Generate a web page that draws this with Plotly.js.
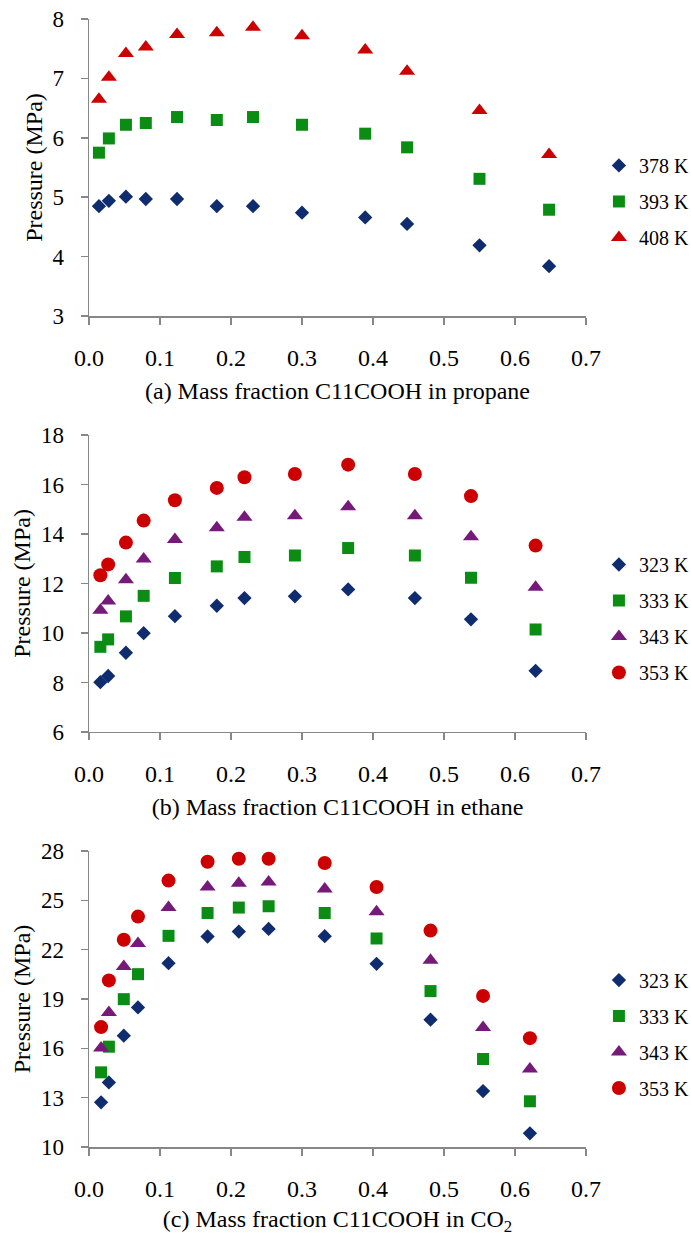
<!DOCTYPE html>
<html>
<head>
<meta charset="utf-8">
<script src="https://cdn.plot.ly/plotly-3.0.1.min.js"></script>
<style>
html,body{margin:0;padding:0;background:#fff}
#chart{width:691px;height:1236px}
#chart text{font-family:'Liberation Serif', serif !important;}
</style>
</head>
<body>
<div id="chart"></div>
<script>
// (a) propane
const fracA = [0.014,0.028,0.052,0.080,0.124,0.180,0.231,0.300,0.389,0.448,0.550,0.648];
const pA378 = [4.85,4.94,5.01,4.97,4.97,4.85,4.85,4.74,4.66,4.55,4.19,3.84];
const pA393 = [5.75,5.99,6.22,6.25,6.35,6.30,6.35,6.22,6.07,5.84,5.31,4.79];
const pA408 = [6.65,7.02,7.42,7.53,7.74,7.77,7.86,7.72,7.48,7.12,6.46,5.72];
// (b) ethane
const fracB = [0.016,0.027,0.052,0.077,0.121,0.180,0.219,0.290,0.365,0.459,0.538,0.629];
const pB323 = [8.01,8.26,9.20,9.99,10.68,11.10,11.41,11.48,11.76,11.41,10.55,8.47];
const pB333 = [9.44,9.74,10.67,11.50,12.22,12.69,13.07,13.13,13.43,13.13,12.23,10.14];
const pB343 = [10.92,11.29,12.15,12.99,13.78,14.25,14.67,14.74,15.10,14.74,13.89,11.85];
const pB353 = [12.33,12.77,13.65,14.54,15.36,15.86,16.29,16.42,16.80,16.42,15.53,13.53];
// (c) CO2
const fracC = [0.017,0.028,0.049,0.069,0.112,0.167,0.211,0.253,0.332,0.405,0.481,0.555,0.621];
const pC323 = [12.72,13.93,16.77,18.49,21.18,22.80,23.10,23.26,22.82,21.14,17.74,13.40,10.83];
const pC333 = [14.54,16.10,18.99,20.51,22.84,24.23,24.56,24.64,24.23,22.68,19.48,15.35,12.78];
const pC343 = [16.02,18.18,20.98,22.37,24.56,25.81,26.04,26.12,25.69,24.30,21.36,17.27,14.74];
const pC353 = [17.29,20.13,22.60,24.01,26.20,27.35,27.53,27.53,27.27,25.81,23.16,19.19,16.62];

const namesA = ['378 K','393 K','408 K'];
const namesBC = ['323 K','333 K','343 K','353 K'];
const xTicks = [0,0.1,0.2,0.3,0.4,0.5,0.6,0.7];
const xTickText = ['0.0','0.1','0.2','0.3','0.4','0.5','0.6','0.7'];

const NAVY = '#0f2d6e', GREEN = '#0b8c12', PURPLE = '#751a78', RED = '#cc0000';
const FONT = "'Liberation Serif', serif";

function tr(x, y, name, sym, color, size, xa, ya, leg, grp) {
  return {x: x, y: y, name: name, type: 'scatter', mode: 'markers',
    marker: {symbol: sym, color: color, size: size, line: {width: 0}},
    xaxis: xa, yaxis: ya, legend: leg, legendgroup: grp, cliponaxis: false};
}

const data = [
  tr(fracA, pA378, namesA[0], 'diamond', NAVY, 11, 'x', 'y', 'legend', 'a1'),
  tr(fracA, pA393, namesA[1], 'square', GREEN, 12, 'x', 'y', 'legend', 'a2'),
  tr(fracA, pA408, namesA[2], 'triangle-up', RED, 14, 'x', 'y', 'legend', 'a3'),
  tr(fracB, pB323, namesBC[0], 'diamond', NAVY, 11, 'x2', 'y2', 'legend2', 'b1'),
  tr(fracB, pB333, namesBC[1], 'square', GREEN, 12, 'x2', 'y2', 'legend2', 'b2'),
  tr(fracB, pB343, namesBC[2], 'triangle-up', PURPLE, 14, 'x2', 'y2', 'legend2', 'b3'),
  tr(fracB, pB353, namesBC[3], 'circle', RED, 14, 'x2', 'y2', 'legend2', 'b4'),
  tr(fracC, pC323, namesBC[0], 'diamond', NAVY, 11, 'x3', 'y3', 'legend3', 'c1'),
  tr(fracC, pC333, namesBC[1], 'square', GREEN, 12, 'x3', 'y3', 'legend3', 'c2'),
  tr(fracC, pC343, namesBC[2], 'triangle-up', PURPLE, 14, 'x3', 'y3', 'legend3', 'c3'),
  tr(fracC, pC353, namesBC[3], 'circle', RED, 14, 'x3', 'y3', 'legend3', 'c4')
];

function xax(anchor, title) {
  return {anchor: anchor, domain: [0, 1], range: [0, 0.7], tickvals: xTicks, ticktext: xTickText,
    showgrid: false, zeroline: false, showline: true, linecolor: '#878787', linewidth: 1.5,
    ticks: 'outside', ticklen: 7, tickcolor: '#878787', tickwidth: 1.5,
    ticklabelstandoff: 13, tickfont: {family: FONT, size: 24, color: '#000'},
    title: {text: title, font: {family: FONT, size: 24, color: '#000'}, standoff: 12},
    automargin: false, fixedrange: true};
}
function yax(anchor, dom, range, dtick, title) {
  return {anchor: anchor, domain: dom, range: range, dtick: dtick, tick0: range[0],
    showgrid: false, zeroline: false, showline: true, linecolor: '#878787', linewidth: 1.5,
    ticks: 'outside', ticklen: 7, tickcolor: '#878787', tickwidth: 1.5,
    ticklabelstandoff: 12, tickfont: {family: FONT, size: 23, color: '#000'},
    title: {text: title, font: {family: FONT, size: 24, color: '#000'}, standoff: 3},
    automargin: false, fixedrange: true};
}
function leg(ycenter) {
  return {x: 1.026, xanchor: 'left', y: ycenter, yanchor: 'middle', bgcolor: 'rgba(0,0,0,0)',
    font: {family: FONT, size: 20, color: '#000'}, tracegroupgap: 7, traceorder: 'grouped',
    itemwidth: 30};
}

const layout = {
  width: 691, height: 1236, paper_bgcolor: '#fff', plot_bgcolor: '#fff',
  margin: {l: 89, r: 105, t: 0, b: 0, autoexpand: false},
  font: {family: FONT, color: '#000'},
  showlegend: true,
  xaxis: xax('y', '(a) Mass fraction C11COOH in propane'),
  yaxis: yax('x', [0.7443, 0.9846], [3, 8], 1, 'Pressure (MPa)'),
  xaxis2: xax('y2', '(b) Mass fraction C11COOH in ethane'),
  yaxis2: yax('x2', [0.4078, 0.6481], [6, 18], 2, 'Pressure (MPa)'),
  xaxis3: xax('y3', '(c) Mass fraction C11COOH in CO<sub>2</sub>'),
  yaxis3: yax('x3', [0.0720, 0.3115], [10, 28], 3, 'Pressure (MPa)'),
  legend: leg(0.837),
  legend2: leg(0.4996),
  legend3: leg(0.1634)
};

Plotly.newPlot('chart', data, layout, {displayModeBar: false, staticPlot: true});
</script>
</body>
</html>
